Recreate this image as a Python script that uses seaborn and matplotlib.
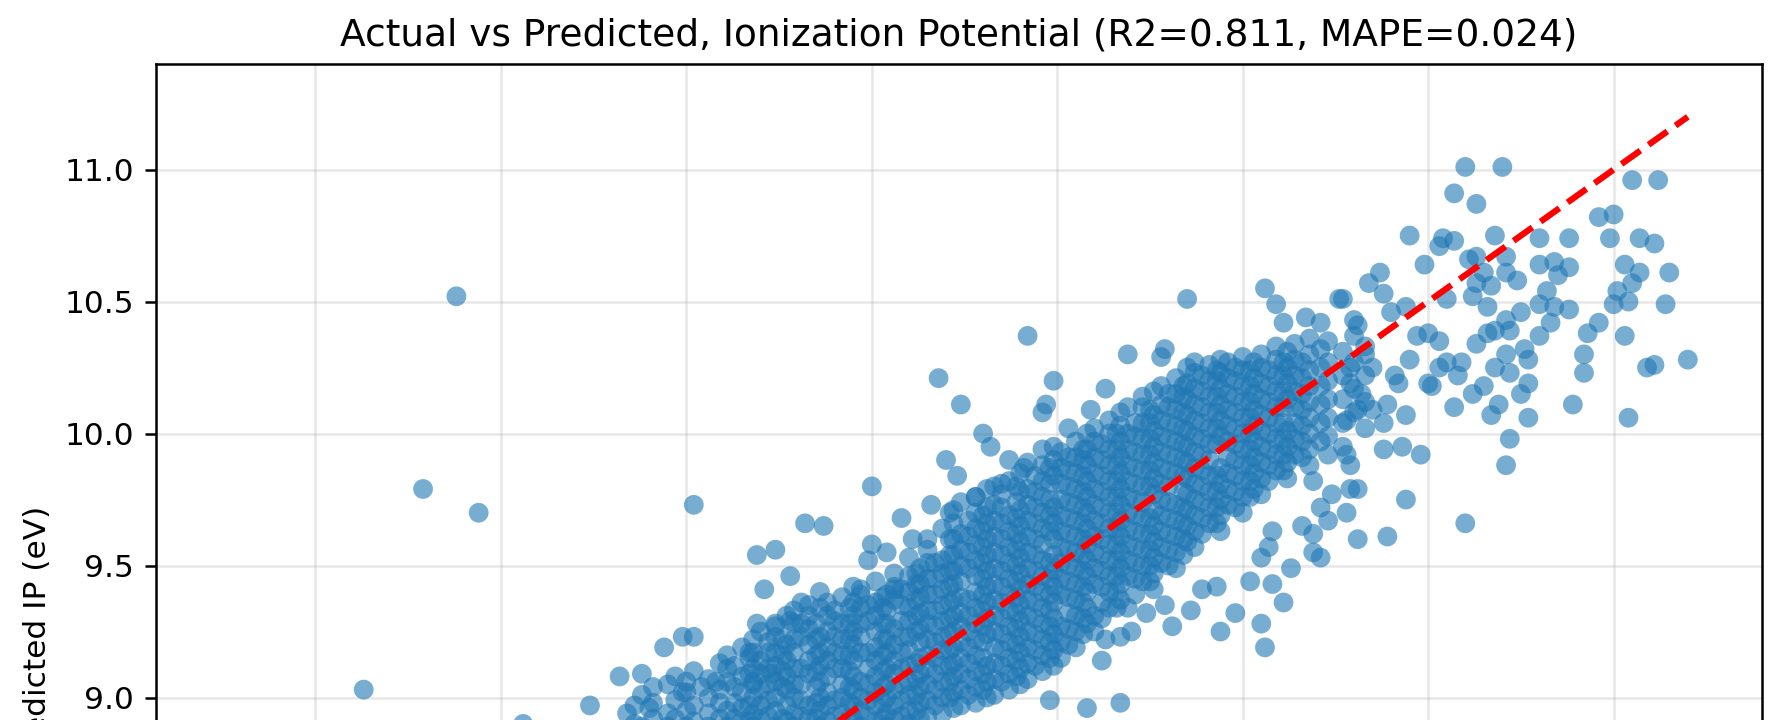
import numpy as np
import pandas as pd
import matplotlib
matplotlib.use("Agg")
import matplotlib.pyplot as plt
from matplotlib.ticker import MultipleLocator
import seaborn as sns

# ======================
# DATA
# ======================
TITLE = "Actual vs Predicted, Ionization Potential (R2=0.811, MAPE=0.024)"
X_LABEL = "Actual IP (eV)"
Y_LABEL = "Predicted IP (eV)"

# isolated points, left side
outlier_actual = [7.63, 7.79, 7.88, 7.94, 8.06, 8.24]
outlier_pred = [9.03, 9.79, 10.52, 9.70, 8.90, 8.97]

# loose points around the lower-left part of the cloud
left_actual = [9.18, 9.24, 9.30, 9.32, 9.20, 9.23, 9.37, 9.41, 9.00, 8.52, 9.08, 8.82,
               8.87, 9.16, 9.21, 9.28, 9.35, 9.11, 9.00, 9.04, 8.99, 8.69, 8.74, 8.78,
               8.71, 8.86, 8.97, 9.06, 8.81, 8.69, 8.74, 8.78, 8.72, 8.44, 8.49, 8.52,
               8.32, 8.38, 8.34, 8.40, 8.67, 8.63, 8.49, 8.54, 8.58, 8.68, 8.73]
left_pred = [10.21, 10.11, 10.00, 9.95, 9.90, 9.84, 9.90, 9.87, 9.80, 9.73, 9.68, 9.66,
             9.65, 9.73, 9.70, 9.76, 9.81, 9.60, 9.58, 9.55, 9.52, 9.54, 9.56, 9.46,
             9.41, 9.40, 9.41, 9.41, 9.36, 9.28, 9.27, 9.29, 9.21, 9.19, 9.23, 9.23,
             9.08, 9.09, 8.94, 8.96, 9.17, 9.12, 9.02, 9.04, 9.06, 9.06, 9.09]

# loose points around the middle part of the cloud
mid_actual = [9.42, 9.85, 9.69, 9.78, 9.79, 9.49, 9.47, 9.46, 9.63, 9.59, 9.53, 9.46,
              10.06, 10.09, 10.11, 10.26, 10.17, 10.21, 10.19, 10.24, 10.21, 10.23, 10.16, 10.19,
              10.21, 10.19, 10.13, 10.08, 10.07, 10.05, 10.02, 10.08, 10.11, 9.98, 10.05, 10.06,
              9.94, 9.93, 9.89, 9.86, 9.81, 9.79, 9.74, 9.70, 9.67, 9.63, 9.62, 9.58,
              9.67, 9.48]
mid_pred = [10.37, 10.51, 10.30, 10.29, 10.32, 10.20, 10.11, 10.08, 10.17, 10.09, 10.02, 9.94,
            10.55, 10.49, 10.42, 10.51, 10.44, 10.42, 9.82, 9.77, 9.72, 9.67, 9.65, 9.62,
            9.53, 9.55, 9.49, 9.63, 9.57, 9.53, 9.44, 9.43, 9.36, 9.32, 9.28, 9.19,
            9.25, 9.42, 9.41, 9.33, 9.27, 9.35, 9.32, 9.25, 9.23, 9.22, 9.14, 8.96,
            8.98, 8.99]

# points in the upper-right part of the cloud
right_actual = [10.60, 10.70, 10.57, 10.63, 11.05, 11.12, 10.45, 10.53, 10.54, 10.57, 10.68, 10.49,
                10.37, 10.34, 10.38, 10.27, 10.61, 10.63, 10.71, 10.65, 10.63, 10.67, 10.71, 10.74,
                10.62, 10.55, 10.66, 10.80, 10.88, 10.96, 11.00, 10.99, 11.07, 11.11, 10.80, 10.84,
                10.88, 10.85, 10.82, 11.03, 11.07, 11.15, 11.05, 11.01, 11.04, 11.00, 11.14, 10.80,
                10.84, 10.88, 10.75, 10.71, 10.83, 10.68, 10.66, 10.72, 10.80, 10.96, 10.93, 11.03,
                10.92, 10.92, 10.76, 10.71, 10.77, 10.68, 10.72, 10.59, 10.63, 10.58, 10.77, 10.75,
                10.65, 10.62, 10.57, 10.69, 10.67, 10.77, 10.89, 11.09, 11.11, 11.20, 11.04, 10.72,
                10.71, 10.60, 10.48, 10.43, 10.38, 10.44, 10.38, 10.44, 10.31, 10.29, 10.28, 10.31,
                10.39, 10.31, 10.30, 10.40, 10.44, 10.47, 10.50, 10.53, 10.45, 10.50, 10.51, 10.53,
                10.55, 10.42, 10.41, 10.35, 10.33, 10.29, 10.29, 10.32, 10.31, 10.28, 10.35, 10.39,
                10.28, 10.29]
right_pred = [11.01, 11.01, 10.91, 10.87, 10.96, 10.96, 10.75, 10.71, 10.74, 10.73, 10.75, 10.64,
              10.61, 10.57, 10.53, 10.51, 10.66, 10.67, 10.67, 10.61, 10.57, 10.56, 10.61, 10.58,
              10.52, 10.51, 10.48, 10.74, 10.74, 10.82, 10.83, 10.74, 10.74, 10.72, 10.64, 10.65,
              10.63, 10.60, 10.54, 10.64, 10.61, 10.61, 10.57, 10.54, 10.50, 10.49, 10.49, 10.49,
              10.48, 10.47, 10.46, 10.43, 10.42, 10.39, 10.38, 10.39, 10.37, 10.42, 10.38, 10.37,
              10.30, 10.23, 10.32, 10.30, 10.28, 10.25, 10.23, 10.27, 10.34, 10.22, 10.19, 10.15,
              10.18, 10.15, 10.10, 10.11, 10.07, 10.06, 10.11, 10.25, 10.26, 10.28, 10.06, 9.98,
              9.88, 9.66, 9.92, 9.95, 9.94, 10.07, 10.04, 9.75, 9.79, 9.79, 9.70, 9.60,
              9.61, 10.41, 10.43, 10.46, 10.48, 10.37, 10.38, 10.35, 10.28, 10.19, 10.18, 10.25,
              10.27, 10.19, 10.22, 10.25, 10.30, 10.25, 10.19, 10.15, 10.09, 10.05, 10.09, 10.11,
              9.92, 9.88]

# dense core of the cloud, read column by column (actual value -> predicted values)
core_actual = [8.36, 8.38, 8.41, 8.45, 8.47, 8.50, 8.52, 8.56, 8.59, 8.61, 8.65, 8.68,
               8.70, 8.74, 8.77, 8.79, 8.83, 8.86, 8.88, 8.92, 8.95, 8.97, 9.01, 9.04,
               9.06, 9.10, 9.13, 9.15, 9.19, 9.22, 9.24, 9.28, 9.31, 9.33, 9.37, 9.40,
               9.42, 9.46, 9.49, 9.51, 9.55, 9.58, 9.60, 9.64, 9.67, 9.69, 9.73, 9.76,
               9.78, 9.82, 9.85, 9.87, 9.91, 9.94, 9.96, 10.00, 10.03, 10.05, 10.09, 10.12,
               10.14, 10.18, 10.21, 10.23, 10.27, 10.30, 10.33]
core_pred = [
    [8.90, 8.97],
    [8.89, 9.01],
    [8.92, 8.98, 9.04],
    [8.89, 8.94, 9.05],
    [8.92, 8.99, 9.08],
    [8.89, 8.95, 9.02, 9.06],
    [8.91, 8.97, 9.10],
    [8.89, 8.94, 9.00, 9.07],
    [8.92, 8.98, 9.03, 9.13],
    [8.89, 8.95, 9.06, 9.11, 9.16],
    [8.91, 8.96, 9.02, 9.08, 9.19],
    [8.89, 8.94, 9.00, 9.05, 9.11, 9.17, 9.22],
    [8.92, 8.97, 9.03, 9.09, 9.14, 9.25],
    [8.89, 8.95, 9.00, 9.06, 9.12, 9.17, 9.23, 9.28],
    [8.91, 8.97, 9.03, 9.08, 9.14, 9.20, 9.31],
    [8.89, 8.94, 9.00, 9.05, 9.11, 9.17, 9.22, 9.28, 9.33],
    [8.92, 8.97, 9.09, 9.14, 9.20, 9.26, 9.31, 9.35],
    [8.89, 8.95, 9.00, 9.06, 9.12, 9.17, 9.23, 9.34],
    [8.91, 8.97, 9.02, 9.08, 9.14, 9.19, 9.25, 9.31, 9.36],
    [8.89, 8.94, 9.00, 9.05, 9.11, 9.16, 9.22, 9.28, 9.38],
    [8.92, 8.97, 9.03, 9.08, 9.14, 9.20, 9.25, 9.31, 9.36, 9.42],
    [8.89, 8.95, 9.00, 9.06, 9.17, 9.23, 9.28, 9.34, 9.39],
    [8.91, 8.97, 9.02, 9.08, 9.14, 9.19, 9.25, 9.31, 9.36, 9.44],
    [8.89, 8.94, 9.00, 9.05, 9.11, 9.17, 9.22, 9.28, 9.33, 9.39],
    [8.92, 8.97, 9.03, 9.09, 9.14, 9.20, 9.26, 9.37, 9.42, 9.47],
    [8.90, 8.95, 9.01, 9.06, 9.12, 9.18, 9.23, 9.29, 9.34, 9.40, 9.46, 9.53],
    [8.92, 8.98, 9.04, 9.09, 9.15, 9.21, 9.26, 9.32, 9.38, 9.43, 9.49],
    [8.93, 8.99, 9.05, 9.11, 9.16, 9.22, 9.28, 9.33, 9.39, 9.45, 9.51, 9.56, 9.60],
    [8.94, 9.00, 9.06, 9.12, 9.18, 9.23, 9.29, 9.35, 9.41, 9.47, 9.52, 9.64],
    [8.96, 9.02, 9.08, 9.13, 9.19, 9.25, 9.31, 9.37, 9.43, 9.48, 9.54, 9.60, 9.66, 9.71],
    [8.97, 9.03, 9.09, 9.15, 9.21, 9.27, 9.32, 9.38, 9.44, 9.50, 9.56, 9.62, 9.74],
    [8.98, 9.04, 9.10, 9.16, 9.22, 9.28, 9.34, 9.40, 9.46, 9.52, 9.58, 9.64, 9.70, 9.76],
    [9.00, 9.06, 9.12, 9.24, 9.30, 9.36, 9.42, 9.48, 9.54, 9.60, 9.66, 9.72, 9.79],
    [9.01, 9.07, 9.13, 9.19, 9.25, 9.31, 9.37, 9.43, 9.49, 9.55, 9.61, 9.67, 9.73, 9.80],
    [9.03, 9.09, 9.15, 9.21, 9.27, 9.33, 9.39, 9.45, 9.51, 9.57, 9.63, 9.69, 9.82],
    [9.05, 9.11, 9.17, 9.23, 9.29, 9.35, 9.41, 9.47, 9.53, 9.59, 9.65, 9.71, 9.78, 9.85],
    [9.07, 9.13, 9.19, 9.25, 9.31, 9.37, 9.43, 9.49, 9.55, 9.61, 9.67, 9.73, 9.79, 9.89],
    [9.10, 9.16, 9.22, 9.28, 9.34, 9.40, 9.46, 9.52, 9.58, 9.64, 9.70, 9.76, 9.82, 9.88],
    [9.12, 9.18, 9.24, 9.30, 9.36, 9.42, 9.48, 9.54, 9.60, 9.66, 9.72, 9.84, 9.90, 9.95],
    [9.15, 9.21, 9.27, 9.39, 9.45, 9.51, 9.57, 9.63, 9.69, 9.75, 9.81, 9.87, 9.93],
    [9.19, 9.25, 9.31, 9.37, 9.43, 9.49, 9.55, 9.61, 9.67, 9.73, 9.79, 9.85, 9.91, 9.97],
    [9.28, 9.34, 9.40, 9.46, 9.52, 9.58, 9.64, 9.70, 9.76, 9.82, 9.88, 9.94, 10.00],
    [9.25, 9.31, 9.43, 9.49, 9.55, 9.61, 9.67, 9.73, 9.79, 9.85, 9.91, 9.97, 10.02],
    [9.34, 9.40, 9.46, 9.52, 9.58, 9.64, 9.70, 9.76, 9.82, 9.88, 9.94, 10.00, 10.05],
    [9.37, 9.43, 9.49, 9.55, 9.61, 9.67, 9.73, 9.79, 9.85, 9.91, 9.97, 10.03, 10.08],
    [9.34, 9.46, 9.52, 9.58, 9.64, 9.70, 9.76, 9.82, 9.88, 9.94, 10.00, 10.10],
    [9.44, 9.50, 9.56, 9.62, 9.68, 9.74, 9.80, 9.86, 9.92, 9.98, 10.04, 10.10, 10.14],
    [9.41, 9.47, 9.53, 9.59, 9.65, 9.71, 9.77, 9.83, 9.89, 9.95, 10.01, 10.07, 10.16],
    [9.51, 9.57, 9.63, 9.69, 9.75, 9.81, 9.87, 9.93, 9.99, 10.05, 10.11, 10.18],
    [9.49, 9.55, 9.61, 9.67, 9.73, 9.85, 9.91, 9.97, 10.03, 10.09, 10.15, 10.21],
    [9.59, 9.65, 9.71, 9.77, 9.83, 9.89, 9.95, 10.01, 10.07, 10.13, 10.19, 10.25],
    [9.57, 9.63, 9.69, 9.75, 9.81, 9.87, 9.93, 9.99, 10.05, 10.11, 10.17, 10.23, 10.27],
    [9.66, 9.72, 9.78, 9.84, 9.90, 9.96, 10.02, 10.08, 10.14, 10.20, 10.26],
    [9.63, 9.69, 9.75, 9.81, 9.87, 9.99, 10.05, 10.11, 10.17, 10.23, 10.28],
    [9.73, 9.79, 9.85, 9.91, 9.97, 10.03, 10.09, 10.15, 10.21, 10.27],
    [9.70, 9.76, 9.82, 9.88, 9.94, 10.00, 10.06, 10.12, 10.18, 10.24, 10.29],
    [9.79, 9.85, 9.91, 9.97, 10.03, 10.09, 10.15, 10.21, 10.27],
    [9.77, 9.83, 9.89, 9.95, 10.01, 10.07, 10.13, 10.19, 10.25, 10.30],
    [9.86, 9.92, 9.98, 10.04, 10.10, 10.16, 10.22, 10.28, 10.33],
    [9.83, 9.89, 9.95, 10.01, 10.13, 10.19, 10.25, 10.31],
    [9.92, 9.98, 10.04, 10.10, 10.16, 10.22, 10.28, 10.34],
    [9.88, 9.94, 10.00, 10.06, 10.12, 10.18, 10.24, 10.30, 10.36],
    [9.97, 10.04, 10.11, 10.18, 10.25, 10.32],
    [9.92, 9.99, 10.06, 10.13, 10.20, 10.27, 10.35],
    [9.95, 10.04, 10.13, 10.22, 10.31],
    [10.08, 10.17, 10.27, 10.37],
    [10.02, 10.12, 10.22, 10.33],
]

# inner, darkest part of the core (second layer of overlapping points)
inner_actual = [8.63, 8.67, 8.72, 8.76, 8.81, 8.85, 8.90, 8.94, 8.99, 9.03, 9.08, 9.12,
                9.17, 9.21, 9.26, 9.30, 9.35, 9.39, 9.44, 9.48, 9.53, 9.57, 9.62, 9.66,
                9.71, 9.75, 9.80, 9.84, 9.89, 9.93, 9.98, 10.02, 10.07, 10.11, 10.16]
inner_pred = [
    [8.92, 8.98, 9.04],
    [8.91, 8.97, 9.09, 9.15],
    [8.93, 8.99, 9.05, 9.11, 9.17],
    [8.92, 9.04, 9.10, 9.16, 9.22],
    [8.93, 8.99, 9.05, 9.11, 9.23, 9.28],
    [8.92, 8.98, 9.04, 9.10, 9.16, 9.22, 9.28],
    [8.93, 8.99, 9.11, 9.17, 9.23, 9.29, 9.33],
    [8.92, 8.98, 9.04, 9.10, 9.16, 9.22, 9.28, 9.34],
    [8.93, 8.99, 9.05, 9.11, 9.17, 9.29, 9.35],
    [8.92, 8.98, 9.04, 9.10, 9.16, 9.22, 9.28, 9.34, 9.38],
    [8.93, 8.99, 9.05, 9.11, 9.17, 9.23, 9.29, 9.35, 9.41],
    [8.95, 9.01, 9.07, 9.13, 9.25, 9.31, 9.37, 9.43, 9.47],
    [8.97, 9.03, 9.09, 9.15, 9.21, 9.27, 9.33, 9.39, 9.45, 9.51],
    [9.00, 9.06, 9.12, 9.18, 9.24, 9.30, 9.36, 9.42, 9.48, 9.54, 9.60],
    [9.01, 9.07, 9.13, 9.19, 9.25, 9.31, 9.37, 9.49, 9.55, 9.61, 9.67],
    [9.03, 9.09, 9.15, 9.21, 9.27, 9.33, 9.39, 9.45, 9.51, 9.57, 9.63, 9.69],
    [9.06, 9.12, 9.18, 9.24, 9.30, 9.36, 9.42, 9.48, 9.54, 9.60, 9.66, 9.72, 9.77],
    [9.08, 9.14, 9.20, 9.26, 9.32, 9.38, 9.44, 9.50, 9.56, 9.62, 9.68, 9.74, 9.80],
    [9.12, 9.18, 9.24, 9.30, 9.36, 9.42, 9.48, 9.54, 9.60, 9.66, 9.72, 9.78, 9.84],
    [9.15, 9.21, 9.27, 9.33, 9.39, 9.45, 9.51, 9.63, 9.69, 9.75, 9.81, 9.87],
    [9.20, 9.26, 9.32, 9.38, 9.44, 9.50, 9.56, 9.62, 9.68, 9.74, 9.80, 9.86, 9.91],
    [9.24, 9.30, 9.36, 9.42, 9.48, 9.54, 9.60, 9.66, 9.72, 9.78, 9.84, 9.90, 9.94],
    [9.30, 9.36, 9.42, 9.48, 9.54, 9.60, 9.66, 9.72, 9.78, 9.84, 9.90, 9.96],
    [9.34, 9.40, 9.46, 9.52, 9.58, 9.64, 9.70, 9.76, 9.82, 9.88, 9.94, 10.00],
    [9.39, 9.45, 9.51, 9.57, 9.63, 9.69, 9.75, 9.81, 9.87, 9.93, 9.99, 10.04],
    [9.44, 9.50, 9.56, 9.62, 9.68, 9.80, 9.86, 9.92, 9.98, 10.04, 10.09],
    [9.50, 9.56, 9.62, 9.68, 9.74, 9.80, 9.86, 9.92, 9.98, 10.04, 10.10, 10.15],
    [9.54, 9.60, 9.66, 9.72, 9.78, 9.84, 9.90, 9.96, 10.02, 10.08, 10.14, 10.18],
    [9.62, 9.68, 9.74, 9.80, 9.86, 9.92, 9.98, 10.04, 10.10, 10.16, 10.22],
    [9.66, 9.72, 9.78, 9.84, 9.96, 10.02, 10.08, 10.14, 10.20, 10.24],
    [9.72, 9.78, 9.84, 9.90, 9.96, 10.02, 10.08, 10.14, 10.20, 10.25],
    [9.76, 9.82, 9.88, 9.94, 10.00, 10.06, 10.12, 10.18, 10.24],
    [9.82, 9.88, 9.94, 10.00, 10.06, 10.12, 10.18, 10.24],
    [9.86, 9.92, 9.98, 10.04, 10.10, 10.16, 10.22, 10.27],
    [9.91, 9.97, 10.03, 10.09, 10.15, 10.21, 10.27],
]

# ======================
# BUILD TABLE
# ======================
actual = outlier_actual + left_actual + mid_actual + right_actual
predicted = outlier_pred + left_pred + mid_pred + right_pred
for cols, rows in [(core_actual, core_pred), (inner_actual, inner_pred)]:
    for a, preds in zip(cols, rows):
        actual += [a] * len(preds)
        predicted += preds

df = pd.DataFrame({"actual": actual, "predicted": predicted})

# ======================
# PLOT
# ======================
DPI = 225
fig = plt.figure(figsize=(1776 / DPI, 720 / DPI), dpi=DPI)
# the axes run below the bottom edge of the picture (cropped view)
ax = fig.add_axes([156 / 1776, 1 - 1207 / 720, 1606 / 1776, 1143 / 720])

sns.scatterplot(data=df, x="actual", y="predicted", ax=ax,
                alpha=0.6, s=40, color="#1f77b4", linewidth=0, edgecolor="none")

lo = min(df["actual"].min(), df["predicted"].min())
hi = max(df["actual"].max(), df["predicted"].max())
ax.plot([lo, hi], [lo, hi], "r--", lw=2)

ax.set_xlim(7.07, 11.40)
ax.set_ylim(7.07, 11.40)
ax.xaxis.set_major_locator(MultipleLocator(0.5))
ax.yaxis.set_major_locator(MultipleLocator(0.5))
ax.grid(True, alpha=0.3)
ax.set_axisbelow(True)

ax.set_title(TITLE, fontsize=12)
ax.set_xlabel(X_LABEL, fontsize=10)
ax.set_ylabel(Y_LABEL, fontsize=10)

fig.savefig("out.png", dpi=DPI)
plt.close(fig)
